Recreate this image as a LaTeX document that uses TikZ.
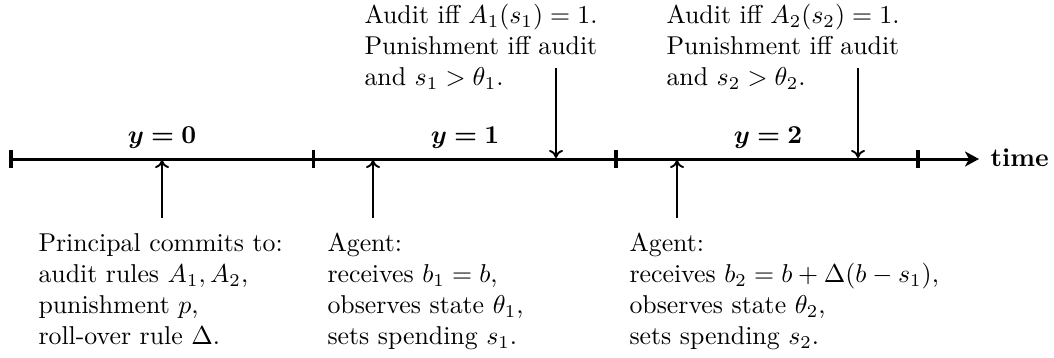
\documentclass[tikz,border=0pt]{standalone}
\usepackage{amsmath,bm}
\usetikzlibrary{arrows.meta}
\begin{document}
\begin{tikzpicture}[x=0.5pt,y=-0.5pt,
  axisline/.style={line width=1.5pt},
  tickmark/.style={line width=1.6pt},
  evarrow/.style={line width=0.95pt,-{To[length=4pt,width=7pt]}},
  txt/.style={anchor=north west,align=left,inner sep=0pt,scale=1.29},
  per/.style={anchor=base,inner sep=0pt,scale=1.29}]
\useasboundingbox (0,0) rectangle (1054,358);
% axis
\coordinate (a0) at (11,159);
\coordinate (a1) at (313.5,159);
\coordinate (a2) at (616,159);
\coordinate (a3) at (918,159);
\coordinate (aend) at (979,159);
\draw[axisline,-{Stealth[length=7pt,width=7.5pt,inset=2pt]}] (a0) -- (aend);
\node[anchor=base west,inner sep=0pt,scale=1.29] (time) at (990,166) {\textbf{time}};
\foreach \c in {a0,a1,a2,a3}
  \draw[tickmark] ([yshift=-4.5pt]\c) -- ([yshift=4.5pt]\c);
% period labels
\node[per] (y0) at (162,143) {$\bm{y=0}$};
\node[per] (y1) at (465,143) {$\bm{y=1}$};
\node[per] (y2) at (768,143) {$\bm{y=2}$};
% bottom texts
\node[txt] (p) at (38,233) {Principal commits to:\\audit rules $A_1,A_2$,\\punishment $p$,\\roll-over rule $\Delta$.};
\node[txt] (ag1) at (327,233) {Agent:\\receives $b_1=b$,\\observes state $\theta_1$,\\sets spending $s_1$.};
\node[txt] (ag2) at (629,233) {Agent:\\receives $b_2=b+\Delta(b-s_1)$,\\observes state $\theta_2$,\\sets spending $s_2$.};
% top texts
\node[txt] (au1) at (364,4) {Audit iff $A_1(s_1)=1$.\\Punishment iff audit\\and $s_1>\theta_1$.};
\node[txt] (au2) at (666,4) {Audit iff $A_2(s_2)=1$.\\Punishment iff audit\\and $s_2>\theta_2$.};
% event arrows
\coordinate (u0s) at (162,218); \coordinate (u0e) at (162,160);
\coordinate (u1s) at (373,218); \coordinate (u1e) at (373,160);
\coordinate (u2s) at (677,218); \coordinate (u2e) at (677,160);
\coordinate (d1s) at (556,68); \coordinate (d1e) at (556,158);
\coordinate (d2s) at (858,68); \coordinate (d2e) at (858,158);
\draw[evarrow] (u0s) -- (u0e);
\draw[evarrow] (u1s) -- (u1e);
\draw[evarrow] (u2s) -- (u2e);
\draw[evarrow] (d1s) -- (d1e);
\draw[evarrow] (d2s) -- (d2e);
\end{tikzpicture}
\end{document}
